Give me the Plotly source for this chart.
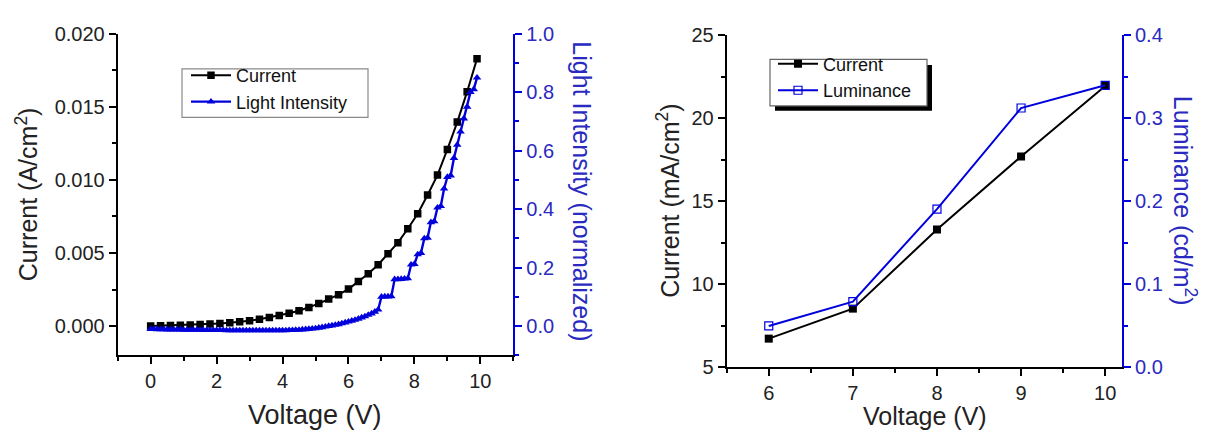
import plotly.graph_objects as go

# ---------------- data ----------------
cur_V = [0.0, 0.3, 0.6, 0.9, 1.2, 1.5, 1.8, 2.1, 2.4, 2.7, 3.0, 3.3, 3.6, 3.9, 4.2, 4.5, 4.8,
         5.1, 5.4, 5.7, 6.0, 6.3, 6.6, 6.9, 7.2, 7.5, 7.8, 8.1, 8.4, 8.7, 9.0, 9.3, 9.6, 9.9]
cur_A = [0.0, 0.00002, 0.00004, 0.00006, 0.00008, 0.00011, 0.00014, 0.00018, 0.00023, 0.00029,
         0.00037, 0.00047, 0.00059, 0.00072, 0.00088, 0.00105, 0.00127, 0.00154, 0.00185, 0.00215,
         0.00253, 0.00305, 0.00358, 0.0042, 0.00495, 0.00571, 0.00666, 0.00769, 0.00897, 0.01033,
         0.01209, 0.01396, 0.01604, 0.0183]

light_V = [0.0, 0.1, 0.2, 0.3, 0.4, 0.5, 0.6, 0.7, 0.8, 0.9,
           1.0, 1.1, 1.2, 1.3, 1.4, 1.5, 1.6, 1.7, 1.8, 1.9,
           2.0, 2.1, 2.2, 2.3, 2.4, 2.5, 2.6, 2.7, 2.8, 2.9,
           3.0, 3.1, 3.2, 3.3, 3.4, 3.5, 3.6, 3.7, 3.8, 3.9,
           4.0, 4.1, 4.2, 4.3, 4.4, 4.5, 4.6, 4.7, 4.8, 4.9,
           5.0, 5.1, 5.2, 5.3, 5.4, 5.5, 5.6, 5.7, 5.8, 5.9,
           6.0, 6.1, 6.2, 6.3, 6.4, 6.5, 6.6, 6.7, 6.8, 6.9,
           7.0, 7.1, 7.2, 7.3, 7.4, 7.5, 7.6, 7.7, 7.8, 7.9,
           8.0, 8.1, 8.2, 8.3, 8.4, 8.5, 8.6, 8.7, 8.8, 8.9,
           9.0, 9.1, 9.2, 9.3, 9.4, 9.5, 9.6, 9.7, 9.8, 9.9]
light_I = [-0.010, -0.010, -0.011, -0.011, -0.011, -0.012, -0.012, -0.012, -0.012, -0.012,
           -0.013, -0.013, -0.013, -0.013, -0.013, -0.013, -0.014, -0.014, -0.014, -0.014,
           -0.014, -0.014, -0.014, -0.015, -0.015, -0.015, -0.015, -0.015, -0.015, -0.015,
           -0.015, -0.015, -0.015, -0.015, -0.015, -0.015, -0.015, -0.015, -0.015, -0.015,
           -0.015, -0.015, -0.014, -0.014, -0.013, -0.013, -0.012, -0.011, -0.010, -0.009,
           -0.008, -0.006, -0.004, -0.002, 0.000, 0.002, 0.004, 0.006, 0.009, 0.012,
           0.015, 0.018, 0.021, 0.025, 0.029, 0.033, 0.038, 0.043, 0.049, 0.056,
           0.100, 0.101, 0.101, 0.102, 0.160, 0.160, 0.161, 0.162, 0.163, 0.210,
           0.212, 0.245, 0.250, 0.300, 0.302, 0.355, 0.358, 0.405, 0.410, 0.470,
           0.510, 0.515, 0.575, 0.620, 0.665, 0.710, 0.750, 0.800, 0.810, 0.850]

lum_V = [6, 7, 8, 9, 10]
lum_current = [6.71, 8.52, 13.29, 17.7, 21.95]
lum_luminance = [0.0495, 0.0789, 0.1905, 0.3124, 0.3398]

# ---------------- styling ----------------
W, H = 1205, 434
BLUE = "#0000dd"
BLUE_TXT = "#2a2ac0"
FONT = "Liberation Sans, Arial, sans-serif"


def px_x(x):
    return x / W


def px_y(y):
    return 1 - y / H


L_dom_x = [px_x(117.7), px_x(513.3)]
L_dom_y = [px_y(362.7), px_y(24)]
R_dom_x = [px_x(726.7), px_x(1122)]
R_dom_y = [px_y(375), px_y(25.7)]

fig = go.Figure()

# left plot traces
fig.add_trace(go.Scatter(x=cur_V, y=cur_A, name="Current", mode="lines+markers",
                         line=dict(color="black", width=2),
                         marker=dict(symbol="square", size=7.5, color="black"),
                         xaxis="x", yaxis="y", legend="legend"))
fig.add_trace(go.Scatter(x=light_V, y=light_I, name="Light Intensity", mode="lines+markers",
                         line=dict(color=BLUE, width=2.4),
                         marker=dict(symbol="triangle-up", size=7.5, color=BLUE),
                         xaxis="x", yaxis="y2", legend="legend"))

# right plot traces
fig.add_trace(go.Scatter(x=lum_V, y=lum_current, name="Current", mode="lines+markers",
                         line=dict(color="black", width=2),
                         marker=dict(symbol="square", size=8, color="black"),
                         xaxis="x2", yaxis="y3", legend="legend2"))
fig.add_trace(go.Scatter(x=lum_V, y=lum_luminance, name="Luminance", mode="lines+markers",
                         line=dict(color=BLUE, width=2),
                         marker=dict(symbol="square-open", size=8, color=BLUE, line=dict(width=1.2)),
                         xaxis="x2", yaxis="y4", legend="legend2"))

tickfont = dict(family=FONT, size=20, color="#222")
tickfont_b = dict(family=FONT, size=20, color=BLUE_TXT)

common = dict(showgrid=False, zeroline=False, showline=True, linewidth=2, ticks="outside",
              ticklen=7, tickwidth=2)

fig.update_layout(
    width=W, height=H,
    margin=dict(l=0, r=0, t=0, b=0),
    paper_bgcolor="white", plot_bgcolor="white",
    showlegend=True,
    font=dict(family=FONT, color="#222"),
    # ---- left plot axes
    xaxis=dict(domain=L_dom_x, anchor="y", range=[-1, 11], tick0=0, dtick=2,
               linecolor="black", tickcolor="black", tickfont=tickfont,
               minor=dict(dtick=1, ticks="outside", ticklen=4, tickwidth=1.5, tickcolor="black"),
               **common),
    xaxis3=dict(overlaying="x", anchor="y", side="top", range=[-1, 11], tick0=0, dtick=2,
                showgrid=False, zeroline=False, showline=True, linewidth=2, linecolor="black",
                ticks="inside", ticklen=7, tickwidth=2, tickcolor="black", showticklabels=False,
                minor=dict(dtick=1, ticks="inside", ticklen=4, tickwidth=1.5, tickcolor="black")),
    yaxis=dict(domain=L_dom_y, anchor="x", range=[-0.002, 0.020], tick0=0, dtick=0.005,
               tickformat=".3f", linecolor="black", tickcolor="black", tickfont=tickfont,
               minor=dict(dtick=0.0025, ticks="outside", ticklen=4, tickwidth=1.5, tickcolor="black"),
               **common),
    yaxis2=dict(overlaying="y", anchor="x", side="right", range=[-0.1, 1.0], tick0=0, dtick=0.2,
                tickformat=".1f", linecolor=BLUE, tickcolor=BLUE, tickfont=tickfont_b,
                minor=dict(dtick=0.1, ticks="outside", ticklen=4, tickwidth=1.5, tickcolor=BLUE),
                **common),
    # ---- right plot axes
    xaxis2=dict(domain=R_dom_x, anchor="y3", range=[5.5, 10.2], tick0=6, dtick=1,
                linecolor="black", tickcolor="black", tickfont=tickfont,
                minor=dict(dtick=0.5, ticks="outside", ticklen=4, tickwidth=1.5, tickcolor="black"),
                **common),
    xaxis4=dict(overlaying="x2", anchor="y3", side="top", range=[5.5, 10.2], tick0=6, dtick=1,
                showgrid=False, zeroline=False, showline=True, linewidth=2, linecolor="black",
                ticks="inside", ticklen=7, tickwidth=2, tickcolor="black", showticklabels=False,
                minor=dict(dtick=0.5, ticks="inside", ticklen=4, tickwidth=1.5, tickcolor="black")),
    yaxis3=dict(domain=R_dom_y, anchor="x2", range=[5, 25], tick0=5, dtick=5,
                linecolor="black", tickcolor="black", tickfont=tickfont,
                minor=dict(dtick=2.5, ticks="outside", ticklen=4, tickwidth=1.5, tickcolor="black"),
                **common),
    yaxis4=dict(overlaying="y3", anchor="x2", side="right", range=[0, 0.4], tick0=0, dtick=0.1,
                tickformat=".1f", linecolor=BLUE, tickcolor=BLUE, tickfont=tickfont_b,
                minor=dict(dtick=0.05, ticks="outside", ticklen=4, tickwidth=1.5, tickcolor=BLUE),
                **common),
    legend=dict(x=px_x(186), y=px_y(48.5), xanchor="left", yanchor="top",
                bgcolor="rgba(0,0,0,0)", borderwidth=0,
                font=dict(family=FONT, size=18, color="#111"),
                tracegroupgap=0, itemwidth=40),
    legend2=dict(x=px_x(773), y=px_y(36.5), xanchor="left", yanchor="top",
                 bgcolor="rgba(0,0,0,0)", borderwidth=0,
                 font=dict(family=FONT, size=18, color="#111"),
                 tracegroupgap=0, itemwidth=40),
)

# legend frames (left plain, right with drop shadow)
fig.add_shape(type="rect", xref="paper", yref="paper",
              x0=px_x(182), x1=px_x(368), y0=px_y(112), y1=px_y(61),
              fillcolor="white", line=dict(color="#8a8a8a", width=1.2), layer="above")
fig.add_shape(type="rect", xref="paper", yref="paper",
              x0=px_x(775), x1=px_x(932), y0=px_y(105), y1=px_y(57),
              fillcolor="black", line=dict(width=0), layer="above")
fig.add_shape(type="rect", xref="paper", yref="paper",
              x0=px_x(770), x1=px_x(927), y0=px_y(100), y1=px_y(51),
              fillcolor="white", line=dict(color="#666", width=1.2), layer="above")

title_font = dict(family=FONT, size=25, color="#222")
title_font_big = dict(family=FONT, size=27, color="#222")
title_font_b = dict(family=FONT, size=25, color=BLUE_TXT)

annotations = [
    dict(text="Current (A/cm<sup>2</sup>)", x=px_x(27), y=px_y(193), textangle=-90, font=title_font),
    dict(text="Light Intensity (normalized)", x=px_x(582), y=px_y(190), textangle=90, font=title_font_b),
    dict(text="Voltage (V)", x=px_x(315), y=px_y(426), textangle=0, font=title_font_big),
    dict(text="Current (mA/cm<sup>2</sup>)", x=px_x(668), y=px_y(200), textangle=-90, font=title_font),
    dict(text="Luminance (cd/m<sup>2</sup>)", x=px_x(1185), y=px_y(200), textangle=90, font=title_font_b),
    dict(text="Voltage (V)", x=px_x(925), y=px_y(427), textangle=0, font=title_font),
]
for a in annotations:
    fig.add_annotation(xref="paper", yref="paper", showarrow=False,
                       xanchor="center", yanchor="middle", **a)

fig.write_html("out.html")
